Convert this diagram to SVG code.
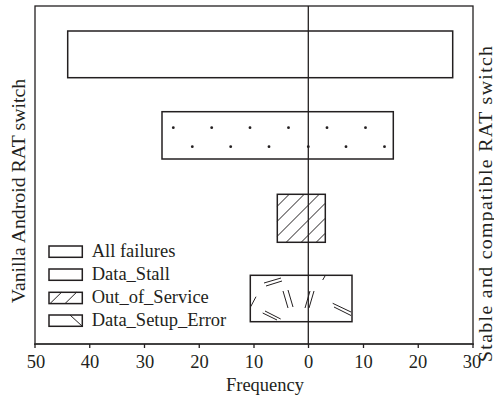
<svg xmlns="http://www.w3.org/2000/svg" width="494" height="398" viewBox="0 0 494 398">
<style>
text{font-family:"Liberation Serif","Times New Roman",serif;fill:#231f20;font-size:18.5px}
.ln{fill:none;stroke:#231f20;stroke-width:1.3}
.bar{fill:#fff;stroke:#231f20;stroke-width:1.5}
.h{stroke:#231f20;stroke-width:1;fill:none}
.dot{fill:#231f20}
.tk{text-anchor:middle}
</style>
<rect width="494" height="398" fill="#fff"/>
<g id="frame">
<rect class="ln" x="35" y="6" width="438" height="338"/>
<line x1="34" y1="344" x2="474" y2="344" stroke="#333" stroke-width="1.7"/>
</g>
<g id="ticks" class="h">
<path d="M35,344V348M89.75,344V348M144.5,344V348M199.25,344V348M254,344V348M308.5,344V348M363.5,344V348M418.25,344V348M473,344V348" stroke-width="1.3"/>
</g>
<g id="ticklabels">
<text class="tk" x="36" y="368">50</text>
<text class="tk" x="90" y="368">40</text>
<text class="tk" x="145" y="368">30</text>
<text class="tk" x="199.5" y="368">20</text>
<text class="tk" x="254" y="368">10</text>
<text class="tk" x="308.5" y="368">0</text>
<text class="tk" x="363.5" y="368">10</text>
<text class="tk" x="418" y="368">20</text>
<text class="tk" x="472" y="368">30</text>
<text class="tk" x="265" y="391">Frequency</text>
</g>
<g id="axis-titles">
<text transform="translate(24.5,191) rotate(-90)" text-anchor="middle" style="font-size:19.8px">Vanilla Android RAT switch</text>
<text transform="translate(491.5,204) rotate(-90)" text-anchor="middle" style="font-size:19.8px" textLength="316" lengthAdjust="spacing">Stable and compatible RAT switch</text>
</g>
<g id="bar-all-failures">
<rect class="bar" x="67.7" y="31" width="385" height="46.7"/>
</g>
<g id="bar-data-stall">
<rect class="bar" x="162" y="111.7" width="231.3" height="47.3"/>
<g class="dot">
<circle cx="173.3" cy="127.7" r="1.4"/><circle cx="211.7" cy="127.7" r="1.4"/><circle cx="250" cy="127.7" r="1.4"/><circle cx="288.5" cy="127.7" r="1.4"/><circle cx="327" cy="127.7" r="1.4"/><circle cx="365.5" cy="127.7" r="1.4"/>
<circle cx="192.3" cy="146.7" r="1.4"/><circle cx="230.7" cy="146.7" r="1.4"/><circle cx="269" cy="146.7" r="1.4"/><circle cx="308.3" cy="146.7" r="1.4"/><circle cx="346" cy="146.7" r="1.4"/><circle cx="384.5" cy="146.7" r="1.4"/>
</g>
</g>
<g id="bar-out-of-service">
<rect class="bar" x="277.3" y="194.3" width="48" height="48"/>
<path class="h" d="M277.3,206.2L289.2,194.3M277.3,221.2L304.2,194.3M277.3,236.2L319.2,194.3M286.2,242.3L325.3,203.2M301.2,242.3L325.3,218.2M316.2,242.3L325.3,233.2"/>
</g>
<g id="bar-data-setup-error">
<rect class="bar" x="250.3" y="275.3" width="101.7" height="46.4"/>
<path class="h" d="M264,283L281,278M266,286L282,281M250.7,306.7L256,296.7M283,291L288,308M288,290L293,307M305,308L310,291M309,308L314,291M262.7,313L277,320M265,311L280.7,319M332.7,303.3L351,312M334,307L351,315.5M325,276L322.7,280"/>
</g>
<g id="connectors">
<line class="ln" x1="308.3" y1="6" x2="308.3" y2="344"/>
</g>
<g id="legend">
<rect class="bar" x="49" y="246" width="33.3" height="11.3"/>
<rect class="bar" x="49" y="269" width="33.3" height="11.3"/>
<rect class="bar" x="49" y="292.3" width="33.3" height="11.3"/>
<path class="h" d="M50,303.6L61.5,292.3M65,303.6L76.5,292.3"/>
<rect class="bar" x="49" y="315" width="33.3" height="11.3"/>
<path class="h" d="M70,315L82.3,326.3"/>
<text x="91.7" y="256.7">All failures</text>
<text x="91.7" y="279.7">Data_Stall</text>
<text x="91.7" y="302.8">Out_of_Service</text>
<text x="91.7" y="325.7">Data_Setup_Error</text>
</g>
</svg>
